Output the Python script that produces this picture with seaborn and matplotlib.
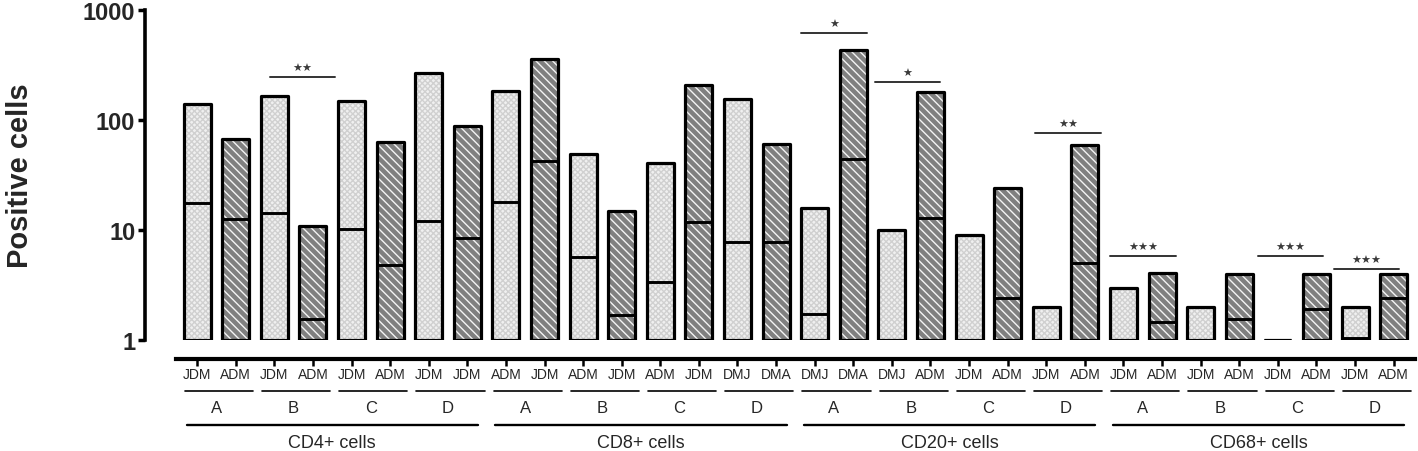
import numpy as np
import matplotlib.pyplot as plt
import matplotlib.transforms as mtransforms
import seaborn as sns

# Chart data
cell_types = ["CD4+ cells", "CD8+ cells", "CD20+ cells", "CD68+ cells"]
subgroups = ["A", "B", "C", "D"]
bar_labels = ["JDM", "ADM", "JDM", "ADM", "JDM", "ADM", "JDM", "JDM",
              "ADM", "JDM", "ADM", "JDM", "ADM", "JDM", "DMJ", "DMA",
              "DMJ", "DMA", "DMJ", "ADM", "JDM", "ADM", "JDM", "ADM",
              "JDM", "ADM", "JDM", "ADM", "JDM", "ADM", "JDM", "ADM"]
max_vals = [140, 67, 165, 10.9, 149, 63, 267, 88,
            183, 360, 49, 14.9, 40.5, 208, 155, 60.6,
            15.9, 433, 10, 180, 9, 24, 2, 59,
            3, 4.06, 2, 4, 1, 4, 2, 4]
median_vals = [17.6, 12.6, 14.3, 1.55, 10.2, 4.8, 12.1, 8.5,
               18, 42, 5.7, 1.69, 3.4, 11.8, 7.8, 7.8,
               1.72, 44, 1, 12.8, 1, 2.4, 1, 5.0,
               1, 1.46, 1, 1.55, 1, 1.9, 1.05, 2.4]

# significance brackets: (first bar, second bar, height, label, x shift)
sig_brackets = [(2, 3, 246, "★★", 0.23), (16, 17, 620, "★", 0.0),
                (18, 19, 221, "★", -0.1), (22, 23, 76, "★★", 0.07),
                (24, 25, 5.8, "★★★", 0.0), (28, 29, 5.8, "★★★", -0.17),
                (30, 31, 4.4, "★★★", -0.2)]

sns.set_style("ticks")
plt.rcParams['font.family'] = ['Liberation Sans', 'DejaVu Sans']

fig = plt.figure(figsize=(14.18, 4.52), dpi=100)
ax = fig.add_axes([145 / 1418, 1 - 341 / 452, 1 - 145 / 1418, 330 / 452])

x = np.arange(len(max_vals))
maxv = np.array(max_vals)
med = np.array(median_vals)
width = 0.70
light = x % 2 == 0

# fill with pattern
ax.bar(x[light], maxv[light] - 1, bottom=1, width=width, color="#f0f0f0",
       hatch="xxxxxx", edgecolor="#d0d0d0", linewidth=0, zorder=2)
ax.bar(x[~light], maxv[~light] - 1, bottom=1, width=width, color="#808080",
       hatch="\\\\\\\\", edgecolor="#f4f4f4", linewidth=0, zorder=2)
# black outlines
ax.bar(x, maxv - 1, bottom=1, width=width, facecolor="none",
       edgecolor="black", linewidth=2.3, joinstyle="round", zorder=3)
# median lines
ax.hlines(med, x - width / 2, x + width / 2, color="black", linewidth=2.1, zorder=4)

ax.set_yscale("log")
ax.set_ylim(1, 1000)
ax.set_xlim(-1.35, 31.63)
ax.set_yticks([1, 10, 100, 1000])
ax.set_yticklabels(["1", "10", "100", "1000"], fontsize=17, fontweight="bold")
ax.yaxis.set_minor_locator(plt.NullLocator())
ax.set_ylabel("Positive cells", fontsize=21, fontweight="bold", labelpad=35)

ax.set_xticks(x)
ax.set_xticklabels(bar_labels, fontsize=10)
ax.tick_params(axis="x", length=5, width=1.8, pad=1, color="black")
ax.tick_params(axis="y", length=5, width=2.5, pad=2, color="black")

ax.spines["top"].set_visible(False)
ax.spines["right"].set_visible(False)
ax.spines["left"].set_linewidth(2.6)
ax.spines["left"].set_color("black")
ax.spines["bottom"].set_linewidth(3.0)
ax.spines["bottom"].set_color("black")
ax.spines["bottom"].set_position(("outward", 13.7))
ax.spines["bottom"].set_bounds(-0.55, 31.55)

# significance bars
for i, j, h, lab, dx in sig_brackets:
    x0 = i - width / 2 + dx
    x1 = j + width / 2 + dx
    ax.plot([x0, x1], [h, h], color="#333333", linewidth=1.4, clip_on=False, zorder=5)
    ax.annotate(lab, xy=((x0 + x1) / 2, h), xytext=(0, 3), textcoords="offset points",
                ha="center", va="bottom", fontsize=8, color="#3a3a3a",
                family=["DejaVu Sans"], annotation_clip=False)

# category annotations under the axis
trans = mtransforms.blended_transform_factory(ax.transData, ax.transAxes)
for g, name in enumerate(cell_types):
    first = g * 8
    for s, sub in enumerate(subgroups):
        a = first + 2 * s
        ax.plot([a - 0.32, a + 1.45], [-0.155, -0.155], color="black", linewidth=1.2,
                transform=trans, clip_on=False)
        ax.text(a + 0.5, -0.206, sub, transform=trans, ha="center", va="center",
                fontsize=12)
    ax.plot([first - 0.27, first + 7.27], [-0.258, -0.258], color="black",
            linewidth=1.7, transform=trans, clip_on=False)
    ax.text(first + 3.5, -0.31, name, transform=trans, ha="center", va="center",
            fontsize=13)

plt.savefig("out.png", dpi=100)
